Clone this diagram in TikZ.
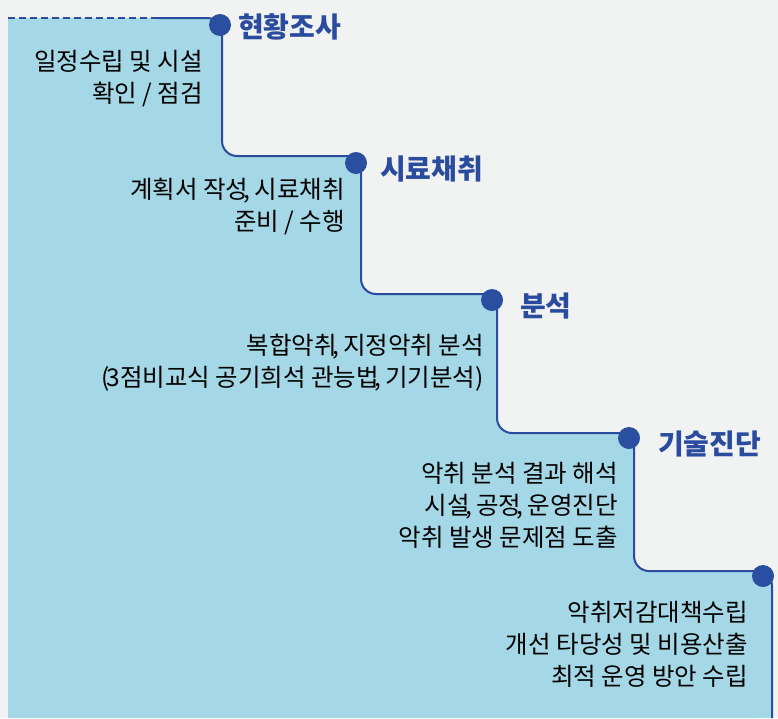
\documentclass[tikz,border=0pt]{standalone}
\usepackage{fontspec}
\setmainfont{Noto Sans CJK KR}
\lineskiplimit=-100pt
\newcommand{\bodyfont}{\fontsize{24.5}{32}\selectfont\lineskiplimit=-100pt\relax}
\newcommand{\cm}{\kern-4.5pt,\kern-1.5pt\ }
\definecolor{bgc}{HTML}{F1F3F3}
\definecolor{fillc}{HTML}{A4D8E6}
\definecolor{linec}{HTML}{2B4C9E}
\definecolor{dotc}{HTML}{2A4FA1}
\tikzset{
  body/.style={anchor=base east, align=right, inner sep=0pt, font=\bodyfont, text=black},
  ttl/.style={anchor=base west, inner sep=0pt, font=\fontsize{28}{30}\selectfont\bfseries, text=linec},
  stepdot/.style={circle, fill=dotc, minimum size=22pt, inner sep=0pt},
  stairline/.style={draw=linec, line width=2pt, rounded corners=15pt},
}
\begin{document}
\begin{tikzpicture}[x=1pt,y=-1pt]
\fill[bgc] (0,0) rectangle (778,718);
\useasboundingbox (0,0) rectangle (778,718);
% corners
\coordinate (s0) at (8,18);
\coordinate (s1) at (157,18);
\coordinate (c1) at (222,18);
\coordinate (c1b) at (222,156);
\coordinate (c2) at (361,156);
\coordinate (c2b) at (361,294);
\coordinate (c3) at (497,294);
\coordinate (c3b) at (497,433);
\coordinate (c4) at (634,433);
\coordinate (c4b) at (634,571);
\coordinate (c5) at (772,571);
\coordinate (e5) at (772,718);
\coordinate (e0) at (8,718);
\fill[fillc] (s0) -- (c1) [rounded corners=15pt] -- (c1b) -- (c2) -- (c2b) -- (c3) -- (c3b) -- (c4) -- (c4b) -- (c5) -- (e5) [sharp corners] -- (e0) -- cycle;
\fill[fillc] (700,650) rectangle (e5);
\draw[linec, line width=2pt, dash pattern=on 7pt off 4pt] (s0) -- (s1);
\draw[stairline] (s1) -- (c1) -- (c1b) -- (c2) -- (c2b) -- (c3) -- (c3b) -- (c4) -- (c4b) -- (c5) -- (e5);
% dots
\node[stepdot] (d1) at (220,25) {};
\node[stepdot] (d2) at (356,163) {};
\node[stepdot] (d3) at (492,300) {};
\node[stepdot] (d4) at (629,438) {};
\node[stepdot] (d5) at (763,576) {};
% titles
\node[ttl] (t1) at (238,37) {현황조사};
\node[ttl] (t2) at (380,179) {시료채취};
\node[ttl] (t3) at (520,316) {분석};
\node[ttl] (t4) at (658,454) {기술진단};
% bodies (anchor = baseline of last line)
\node[body] (b1) at (203,102.5) {일정수립 및 시설\\확인 / 점검};
\node[body] (b2) at (345,230.5) {계획서 작성\cm 시료채취\\준비 / 수행};
\node[body] (b3) at (484,386.5) {복합악취\cm 지정악취 분석\\(\kern-3pt 3점비교식 공기희석 관능법\cm 기기분석)};
\node[body] (b4) at (618,546.5) {악취 분석 결과 해석\\시설\cm 공정\cm 운영진단\\악취 발생 문제점 도출};
\node[body] (b5) at (748,685.5) {악취저감대책수립\\개선 타당성 및 비용산출\\최적 운영 방안 수립};
\end{tikzpicture}
\end{document}
